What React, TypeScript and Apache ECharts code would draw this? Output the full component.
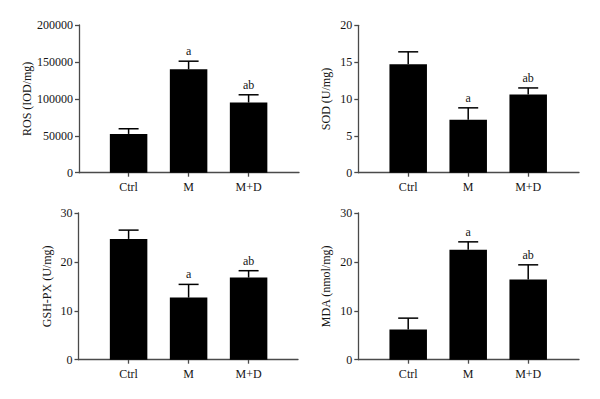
import React, { useEffect, useRef } from "react";
import * as echarts from "echarts";

const categories = ["Ctrl", "M", "M+D"];
const significance = ["", "a", "ab"];

const rosMean = [52500, 140000, 95000];
const rosErr = [7000, 11000, 10500];
const sodMean = [14.7, 7.2, 10.6];
const sodErr = [1.7, 1.6, 0.9];
const gshMean = [24.7, 12.7, 16.8];
const gshErr = [1.8, 2.7, 1.4];
const mdaMean = [6.2, 22.5, 16.4];
const mdaErr = [2.3, 1.6, 3.0];

const yNames = ["ROS (IOD/mg)", "SOD (U/mg)", "GSH-PX (U/mg)", "MDA (nmol/mg)"];
const yMaxes = [200000, 20, 30, 30];
const yIntervals = [50000, 5, 10, 10];

const FONT = "Liberation Serif";
const FONT_SIZE = 12;
const AXIS_COLOR = "#4a4a4a";
const TEXT_COLOR = "#151515";

// layout per panel
const layouts = [
  { axisX: 79, firstCenter: 128.6, top: 25, height: 147.7, axisEnd: 299, nameGap: 46 },
  { axisX: 358.3, firstCenter: 408.2, top: 25.3, height: 147.4, axisEnd: 579, nameGap: 26 },
  { axisX: 78.5, firstCenter: 128.6, top: 213, height: 146.7, axisEnd: 298, nameGap: 26 },
  { axisX: 358.3, firstCenter: 408.2, top: 213, height: 146.7, axisEnd: 579, nameGap: 26 },
];

export default function App() {
  const ref = useRef<HTMLDivElement>(null);

  useEffect(() => {
    if (!ref.current) return;
    const chart = echarts.init(ref.current, null, { renderer: "svg" });
    const means = [rosMean, sodMean, gshMean, mdaMean];
    const errs = [rosErr, sodErr, gshErr, mdaErr];

    const grids: any[] = [];
    const xAxes: any[] = [];
    const yAxes: any[] = [];
    const series: any[] = [];

    layouts.forEach((L, i) => {
      const band = 60;
      const mainIdx = grids.length;
      grids.push({
        left: L.firstCenter - band / 2,
        top: L.top,
        width: band * categories.length,
        height: L.height,
      });
      const auxIdx = grids.length;
      grids.push({
        left: L.axisX,
        top: L.top,
        width: L.axisEnd - L.axisX,
        height: L.height,
      });

      const mainX = xAxes.length;
      xAxes.push({
        type: "category",
        gridIndex: mainIdx,
        data: categories,
        axisLine: { show: false },
        axisTick: {
          show: true,
          alignWithLabel: true,
          length: 4,
          lineStyle: { color: AXIS_COLOR, width: 1.3 },
        },
        axisLabel: {
          color: TEXT_COLOR,
          fontFamily: FONT,
          fontSize: FONT_SIZE,
          margin: 8,
        },
      });
      xAxes.push({
        type: "value",
        gridIndex: auxIdx,
        min: 0,
        max: 1,
        axisLine: { show: true, onZero: false, lineStyle: { color: AXIS_COLOR, width: 1.3 } },
        axisTick: { show: false },
        axisLabel: { show: false },
        splitLine: { show: false },
      });

      const mainY = yAxes.length;
      yAxes.push({
        type: "value",
        gridIndex: mainIdx,
        min: 0,
        max: yMaxes[i],
        interval: yIntervals[i],
        axisLine: { show: false },
        axisTick: { show: false },
        axisLabel: { show: false },
        splitLine: { show: false },
      });
      yAxes.push({
        type: "value",
        gridIndex: auxIdx,
        min: 0,
        max: yMaxes[i],
        interval: yIntervals[i],
        name: yNames[i],
        nameLocation: "middle",
        nameGap: L.nameGap,
        nameTextStyle: { color: TEXT_COLOR, fontFamily: FONT, fontSize: FONT_SIZE },
        axisLine: { show: true, lineStyle: { color: AXIS_COLOR, width: 1.3 } },
        axisTick: { show: true, length: 4, lineStyle: { color: AXIS_COLOR, width: 1.3 } },
        axisLabel: {
          color: TEXT_COLOR,
          fontFamily: FONT,
          fontSize: FONT_SIZE,
          margin: 6,
          formatter: (v: number) => String(v),
        },
        splitLine: { show: false },
      });

      series.push({
        type: "bar",
        xAxisIndex: mainX,
        yAxisIndex: mainY,
        data: means[i],
        barWidth: 37.5,
        itemStyle: { color: "#000" },
        z: 2,
      });

      const errData = means[i].map((m, k) => [k, m, errs[i][k]]);
      series.push({
        type: "custom",
        xAxisIndex: mainX,
        yAxisIndex: mainY,
        data: errData,
        z: 3,
        renderItem: (params: any, api: any) => {
          const x = api.value(0);
          const m = api.value(1);
          const e = api.value(2);
          const base = api.coord([x, m]);
          const top = api.coord([x, m + e]);
          const capHalf = 10;
          const stroke = { stroke: "#000", lineWidth: 1.5 };
          const children: any[] = [
            { type: "line", shape: { x1: base[0], y1: base[1], x2: top[0], y2: top[1] }, style: stroke },
            {
              type: "line",
              shape: { x1: top[0] - capHalf, y1: top[1], x2: top[0] + capHalf, y2: top[1] },
              style: stroke,
            },
          ];
          const sig = significance[params.dataIndex];
          if (sig) {
            children.push({
              type: "text",
              x: top[0],
              y: top[1] - 4,
              style: {
                text: sig,
                fill: TEXT_COLOR,
                font: `${FONT_SIZE}px "${FONT}"`,
                align: "center",
                verticalAlign: "bottom",
              },
            });
          }
          return { type: "group", children };
        },
      });
    });

    chart.setOption({
      animation: false,
      backgroundColor: "#fff",
      grid: grids,
      xAxis: xAxes,
      yAxis: yAxes,
      series,
    });

    return () => chart.dispose();
  }, []);

  return (
    <div
      ref={ref}
      style={{ position: "fixed", left: 0, top: 0, width: 600, height: 399, background: "#fff" }}
    />
  );
}
